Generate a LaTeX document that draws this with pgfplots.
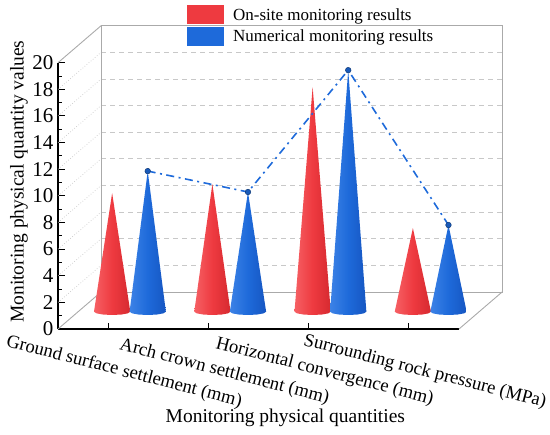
\documentclass[border=0pt]{standalone}
\usepackage{fontspec}
\setmainfont{Liberation Serif}
\usepackage{pgfplots}
\usepackage{pgfplotstable}
\pgfplotsset{compat=1.18}
\definecolor{redc}{RGB}{238,58,64}
\definecolor{redl}{RGB}{246,96,100}
\definecolor{redd}{RGB}{214,42,48}
\definecolor{bluec}{RGB}{30,106,218}
\definecolor{bluel}{RGB}{60,130,230}
\definecolor{blued}{RGB}{22,86,194}
\definecolor{frame}{RGB}{170,170,170}
\definecolor{gridc}{RGB}{200,200,200}

% values of the two series (cone heights above the floor)
\pgfplotstableread{
cat red blue
0 8.91 10.56
1 9.59 8.99
2 16.87 18.14
3 6.28 6.51
}\data

% outline of a unit cone: across (u), tip flag (t), base ellipse (e)
\pgfplotstableread{
u t e
-1 0 0
0 1 0
1 0 0
0.866 0 -0.5
0.5 0 -0.866
0 0 -1
-0.5 0 -0.866
-0.866 0 -0.5
-1 0 0
}\conetpl

\newcommand\cone[3]{%
  \addplot[#3, forget plot] table[x expr={#1+0.181*\thisrow{u}}, y expr={1.3+#2*\thisrow{t}+0.248*\thisrow{e}}]{\conetpl};}

\pgfplotsset{
  redcone/.style={draw=none, left color=redl, right color=redd, middle color=redc},
  bluecone/.style={draw=none, left color=bluel, right color=blued, middle color=bluec},
}

\begin{document}
\begin{tikzpicture}
\begin{axis}[
  scale only axis, width=401pt, height=266.3pt,
  xmin=-0.5, xmax=3.5, ymin=0, ymax=20,
  axis x line*=bottom, axis y line*=left,
  axis line style={line width=1.2pt, -},
  xtick={0,1,2,3},
  xticklabels={Ground surface settlement (mm), Arch crown settlement (mm), Horizontal convergence (mm), Surrounding rock pressure (MPa)},
  ytick={0,2,...,20}, minor y tick num=1,
  tick align=inside, major tick length=6.5pt, minor tick length=3.5pt,
  tick style={black, line width=1pt},
  xticklabel style={xshift=16pt, yshift=-43pt, anchor=center, rotate=-14.5, font=\fontsize{18.6}{20}\selectfont},
  /pgf/number format/assume math mode=true,
  yticklabel={\fontsize{21}{23}\selectfont\pgfmathprintnumber{\tick}},
  yticklabel style={xshift=-1pt},
  xlabel={Monitoring physical quantities},
  ylabel={Monitoring physical quantity values},
  xlabel style={at={(rel axis cs:0.567,-0.332)}, anchor=center, font=\fontsize{19.5}{21}\selectfont},
  ylabel style={at={(rel axis cs:-0.0973,0.5535)}, anchor=center, font=\fontsize{19.5}{21}\selectfont},
  clip=false,
  legend image code/.code={\fill[#1] (0pt,-9.5pt) rectangle (37pt,9.5pt);},
  legend style={at={(rel axis cs:0.3215,1.216)}, anchor=north west, draw=none, fill=none,
    inner sep=0pt, row sep=2.5pt, font=\fontsize{17}{19}\selectfont,
    /tikz/every odd column/.append style={column sep=7pt}},
  legend cell align=left,
]
% pseudo-3D frame
\draw[gridc, dotted, line width=0.7pt]
  \foreach \v in {2,4,...,18} { (axis cs:-0.5,\v) -- (axis cs:-0.07,\v+2.78) };
\draw[gridc, dashed, dash pattern=on 5pt off 4pt, line width=0.8pt]
  \foreach \v in {2,4,...,18} { (axis cs:-0.07,\v+2.78) -- (axis cs:3.93,\v+2.78) };
\draw[frame, line width=0.9pt] (axis cs:-0.07,2.78) rectangle (axis cs:3.93,22.78);
\draw[frame, line width=0.9pt] (axis cs:-0.5,0) -- (axis cs:-0.07,2.78);
\draw[frame, line width=0.9pt] (axis cs:-0.5,20) -- (axis cs:-0.07,22.78);
\draw[frame, line width=0.9pt] (axis cs:3.5,0) -- (axis cs:3.93,2.78);

\addlegendimage{fill=redc, draw=none}
\addlegendentry{On-site monitoring results}
\addlegendimage{fill=bluec, draw=none}
\addlegendentry{Numerical monitoring results}

\pgfplotsinvokeforeach{0,1,2,3}{%
  \pgfplotstablegetelem{#1}{red}\of\data \let\rv\pgfplotsretval
  \pgfplotstablegetelem{#1}{blue}\of\data \let\bv\pgfplotsretval
  \edef\tmp{\noexpand\cone{#1+0.04}{\rv}{redcone}\noexpand\cone{#1+0.395}{\bv}{bluecone}}\tmp
}

\addplot[bluec, line width=1.6pt, dash pattern=on 8pt off 4.5pt on 2pt off 4.5pt,
  mark=*, mark size=2.8pt, mark options={solid, fill=bluec!85!black, draw=bluec!55!black, line width=0.5pt}, forget plot]
  table[x expr={\thisrow{cat}+0.395}, y expr={\thisrow{blue}+1.3}]{\data};
\end{axis}
\pgfresetboundingbox
\path ([xshift=-58pt,yshift=-105pt]current axis.south west) rectangle ([xshift=91pt,yshift=62.7pt]current axis.north east);
\end{tikzpicture}
\end{document}
